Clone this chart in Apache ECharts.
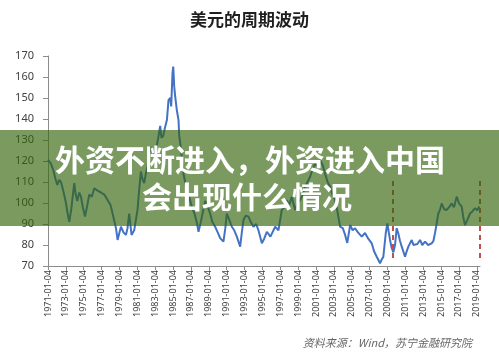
<!DOCTYPE html>
<html>
<head>
<meta charset="utf-8">
<script src="https://cdn.jsdelivr.net/npm/echarts@6/dist/echarts.min.js"></script>
<style>html,body{margin:0;padding:0;background:#fff}#c{width:499px;height:356px}</style>
</head>
<body>
<div id="c"></div>
<script>
// decimal-year positions (years after 1971-01-04) and dollar index values
const yearsAfter1971 = [0,0.3,0.59,0.8,1.04,1.25,1.45,1.7,2.01,2.2,2.38,2.6,2.94,3.1,3.28,3.5,3.69,3.9,4.14,4.4,4.62,4.9,5.18,5.5,5.93,6.3,6.67,7.0,7.23,7.45,7.61,7.79,8.0,8.17,8.45,8.72,8.9,9.09,9.35,9.65,10.02,10.2,10.40,10.6,10.77,10.95,11.14,11.3,11.44,11.7,12.0,12.3,12.56,12.7,12.90,13.1,13.31,13.49,13.68,13.79,13.94,14.02,14.13,14.24,14.43,14.61,14.69,14.80,15.0,15.17,15.35,15.55,15.8,16.11,16.4,16.67,16.85,17.05,17.23,17.4,17.60,17.9,18.15,18.4,18.71,19.0,19.27,19.64,19.85,20.02,20.3,20.58,20.85,21.14,21.51,21.7,21.88,22.15,22.44,22.7,23.0,23.3,23.56,23.94,24.2,24.50,24.9,25.43,25.8,26.17,26.45,26.73,27.0,27.29,27.66,27.95,28.22,28.5,28.78,29.05,29.34,29.6,29.90,30.2,30.46,30.75,31.02,31.3,31.58,31.85,32.14,32.4,32.70,33.0,33.26,33.5,33.82,34.1,34.37,34.7,35.12,35.49,35.85,36.24,36.5,36.80,37.17,37.35,37.54,37.81,37.99,38.15,38.29,38.45,38.66,38.85,39.03,39.21,39.40,39.60,39.97,40.15,40.34,40.55,40.72,40.9,41.09,41.35,41.65,41.9,42.21,42.55,42.95,43.15,43.32,43.50,43.69,43.9,44.07,44.35,44.63,44.9,45.19,45.45,45.75,46.0,46.31,46.5,46.68,46.95,47.24,47.5,47.80,48.05,48.28];
const dollarIndex =   [120.5,119,115.7,112,108.6,111,110,106,100,95,91,97,109.5,104,101,105,103,98,93.5,99,104,103,107,106,105,104,101.4,99,95,91,88,82.4,86,88.7,86,84.8,88,95,84.8,87,96.7,106,115,111,109.5,114,117.3,122,126.8,123,124,130,136.7,131,132,136,139.5,149,150,146,162,165,155.4,150.6,144,139.5,132,128.5,121,114,110,106,103,98,95,90.5,86.3,90,93.5,97,101,98,95,91,88.7,86,83.3,81.6,88,95,92,88.7,87,84,79.2,86,91.9,94,93.5,91,88.7,90,87,80.8,83,86.3,84,88.7,87,96.7,98,101.4,99,103,96.7,100,101.4,104,107.8,110,112.5,116,118.9,117,120.5,118,114,110,107.8,104,101.4,96,88.7,88,84.8,81,89.5,87,88,86,84,85.7,83,80.8,77,74.4,71.3,73,74.4,85.6,90.3,86,82.4,79,76.5,80,88,85.6,82,79.2,74.4,77,79.2,81,82.4,80,79.2,80.5,82.4,80,81.6,80,80.8,82,85.6,90,95,97,99.8,97,96.7,98,99.8,98,103,100,98.3,93,89.5,92,95,96,97.5,96.5,98.3];
const yTicks = [70,80,90,100,110,120,130,140,150,160,170];
const markYears = [38.59, 48.28];
const markRange = [73.8, 111];
const title = '美元的周期波动';
const bannerLines = ['外资不断进入，外资进入中国', '会出现什么情况'];
const source = '资料来源：Wind，苏宁金融研究院';

const chart = echarts.init(document.getElementById('c'));
const data = yearsAfter1971.map((t, i) => [t, dollarIndex[i]]);
chart.setOption({
  animation: false,
  title: {
    text: title, left: 'center', top: 6,
    textStyle: { fontSize: 17, fontWeight: 'bold', color: '#1f1f1f', fontFamily: 'Noto Sans CJK SC' }
  },
  grid: { left: 48, right: 19, top: 56, bottom: 90 },
  xAxis: {
    type: 'value', min: 0, max: 48.36, interval: 2,
    splitLine: { show: false },
    axisLine: { lineStyle: { color: '#8c8c8c', width: 1 } },
    axisTick: { show: true, length: 4, lineStyle: { color: '#8c8c8c' } },
    axisLabel: {
      rotate: 90, fontSize: 9, color: '#404040', margin: 4, showMaxLabel: false,
      fontFamily: 'Noto Sans',
      formatter: v => (Math.abs(v % 2) < 1e-6 ? (1971 + v) + '-01-04' : '')
    }
  },
  yAxis: {
    type: 'value', min: yTicks[0], max: yTicks[yTicks.length - 1], interval: 10,
    splitLine: { show: false },
    axisLine: { show: true, lineStyle: { color: '#8c8c8c', width: 1 } },
    axisTick: { show: true, length: 5, lineStyle: { color: '#8c8c8c' } },
    axisLabel: { fontSize: 11, color: '#404040', margin: 14, fontFamily: 'Noto Sans' }
  },
  series: [{
    type: 'line', data: data, showSymbol: false, symbol: 'none',
    lineStyle: { color: '#4472C4', width: 2 },
    z: 2,
    markLine: {
      silent: true, symbol: 'none', label: { show: false },
      lineStyle: { color: '#c0504d', width: 2, type: [5, 4] },
      data: markYears.map(x => [{ coord: [x, markRange[0]] }, { coord: [x, markRange[1]] }])
    }
  }],
  graphic: [
    { type: 'rect', z: 100, shape: { x: 0, y: 130, width: 499, height: 96 },
      style: { fill: 'rgba(51,100,11,0.65)' } },
    { type: 'text', z: 101, x: 250, y: 160,
      style: { text: bannerLines[0], fill: '#fff', font: 'bold 30px "Noto Sans CJK SC"', align: 'center', verticalAlign: 'middle' } },
    { type: 'text', z: 101, x: 247, y: 197,
      style: { text: bannerLines[1], fill: '#fff', font: 'bold 30px "Noto Sans CJK SC"', align: 'center', verticalAlign: 'middle' } },
    { type: 'text', z: 101, x: 472, y: 343,
      style: { text: source, fill: '#666', font: 'italic 11px "Noto Sans CJK SC"', align: 'right', verticalAlign: 'middle' } }
  ]
});
</script>
</body>
</html>
